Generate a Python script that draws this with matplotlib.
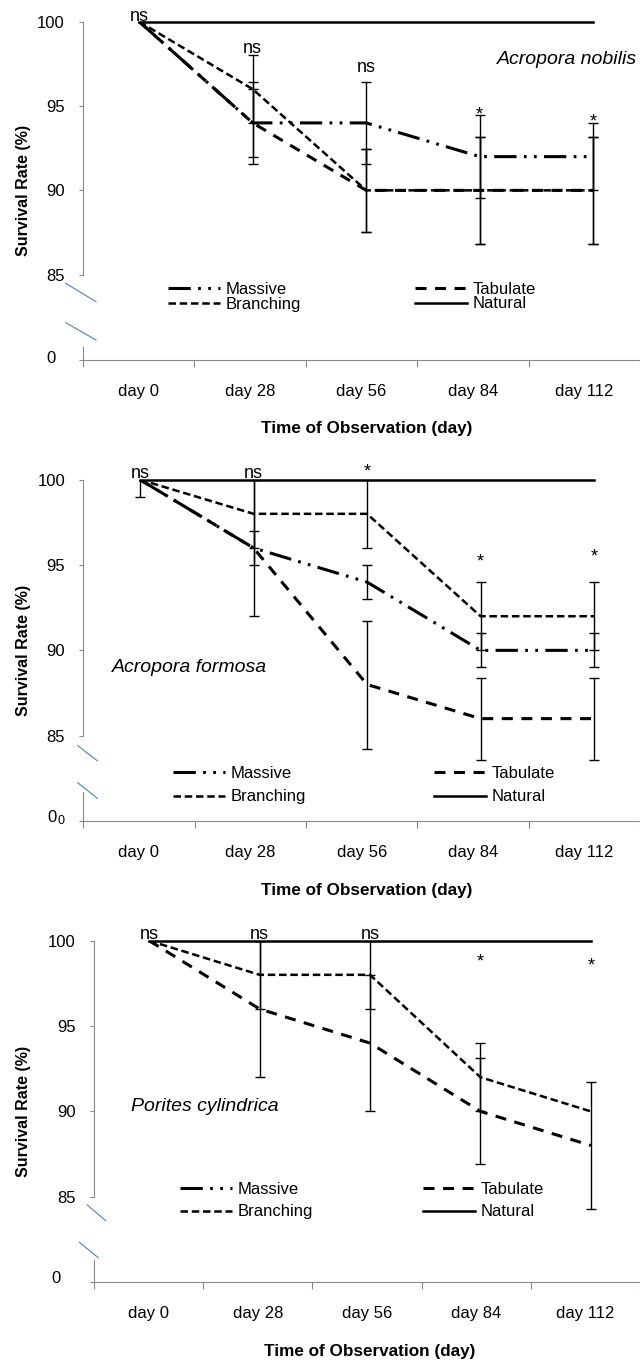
import numpy as np
import matplotlib.pyplot as plt
import matplotlib.transforms as mtransforms
from matplotlib.lines import Line2D

plt.rcParams['font.family'] = ['Liberation Sans', 'DejaVu Sans']

# ---------------------------------------------------------------------------
# Data (survival rate, %)
# ---------------------------------------------------------------------------
days = ["day 0", "day 28", "day 56", "day 84", "day 112"]

# Acropora nobilis
nobilis_massive = [100, 94, 94, 92, 92]
nobilis_tabulate = [100, 94, 90, 90, 90]
nobilis_branching = [100, 96, 90, 90, 90]
nobilis_natural = [100, 100, 100, 100, 100]
nobilis_massive_err = [0, 2.45, 2.45, 2.45, 2.0]
nobilis_tabulate_err = [0, 2.0, 2.45, 3.16, 3.16]
nobilis_branching_err = [0, 2.0, 2.45, 3.16, 3.16]
nobilis_sig = ["ns", "ns", "ns", "*", "*"]
nobilis_sig_y = [100.05, 98.13, 97.0, 94.2, 93.8]

# Acropora formosa
formosa_massive = [100, 96, 94, 90, 90]
formosa_tabulate = [100, 96, 88, 86, 86]
formosa_branching = [100, 98, 98, 92, 92]
formosa_natural = [100, 100, 100, 100, 100]
formosa_massive_err = [1.0, 4.0, 1.0, 1.0, 1.0]
formosa_tabulate_err = [0, 1.0, 3.75, 2.4, 2.4]
formosa_branching_err = [0, 2.0, 2.0, 2.0, 2.0]
formosa_sig = ["ns", "ns", "*", "*", "*"]
formosa_sig_y = [100.08, 100.08, 100.2, 94.94, 95.2]

# Porites cylindrica (no Massive line drawn in the original)
cylindrica_massive = [np.nan, np.nan, np.nan, np.nan, np.nan]
cylindrica_tabulate = [100, 96, 94, 90, 88]
cylindrica_branching = [100, 98, 98, 92, 90]
cylindrica_natural = [100, 100, 100, 100, 100]
cylindrica_massive_err = [0, 0, 0, 0, 0]
cylindrica_tabulate_err = [0, 4.0, 4.0, 3.1, 3.7]
cylindrica_branching_err = [0, 2.0, 2.0, 2.0, 0]
cylindrica_sig = ["ns", "ns", "ns", "*", "*"]
cylindrica_sig_y = [100.08, 100.08, 100.08, 98.46, 98.23]

# ---------------------------------------------------------------------------
# Styles / layout (pixels of a 640x1360 canvas)
# ---------------------------------------------------------------------------
W, H = 640, 1360
GRAY = '#898989'
BLUE = '#4F81BD'

STYLES = {
    "Massive":   dict(lw=2.2, ls=(0, (7.3, 2.4, 0.9, 2.4, 0.9, 2.4))),
    "Tabulate":  dict(lw=2.2, ls=(0, (3.6, 2.8))),
    "Branching": dict(lw=1.8, ls=(0, (3.0, 1.5))),
    "Natural":   dict(lw=1.8, ls='-'),
}

LAYOUTS = [
    dict(x0=82.5, step=113.5, y100=21.7, y85=274.7, low_top=347.3, low_bot=360.0,
         zero_pad=16, zero_up=3, leg_x1=168, leg_x2=415, leg_y=281.5, leg_sp=0.0,
         species="Acropora nobilis", sp_xy=(4.385, 97.73), sp_ha='right',
         breaks=[(65.7, 283.3, 96, 301.7), (65.7, 322.7, 96, 340)], ghost=False),
    dict(x0=83.3, step=113.5, y100=479.7, y85=735.7, low_top=791.7, low_bot=821.0,
         zero_pad=16, zero_up=5, leg_x1=173, leg_x2=434, leg_y=765.5, leg_sp=0.53,
         species="Acropora formosa", sp_xy=(-0.247, 88.97), sp_ha='left',
         breaks=[(77.7, 745.7, 97.3, 760.7), (77.7, 782.7, 97.3, 798.3)], ghost=True),
    dict(x0=94.0, step=110.4, y100=940.7, y85=1196.7, low_top=1260.0, low_bot=1282.3,
         zero_pad=21, zero_up=5, leg_x1=180, leg_x2=423, leg_y=1182.3, leg_sp=0.43,
         species="Porites cylindrica", sp_xy=(-0.168, 90.29), sp_ha='left',
         breaks=[(87.3, 1205, 105.7, 1220.7), (79.3, 1242.3, 98.3, 1257.7)], ghost=False),
]

fig = plt.figure(figsize=(W / 100, H / 100), dpi=100)


def fx(px):
    return px / W


def fy(py):
    return 1 - py / H


def draw_panel(series, errors, sig, sig_y, lay):
    x = np.arange(len(days))
    scale = (lay['y85'] - lay['y100']) / 15.0
    y_lo = 82.0
    top_bottom = lay['y100'] + (100 - y_lo) * scale
    width_px = W - lay['x0']
    x_hi = -0.5 + width_px / lay['step']

    # upper (85-100) part
    ax = fig.add_axes([fx(lay['x0']), fy(top_bottom), width_px / W,
                       (top_bottom - lay['y100']) / H])
    ax.set_xlim(-0.5, x_hi)
    ax.set_ylim(y_lo, 100)
    ax.patch.set_visible(False)
    for s in ['top', 'right', 'bottom']:
        ax.spines[s].set_visible(False)
    ax.spines['left'].set_bounds(85, 100)
    ax.spines['left'].set_color(GRAY)
    ax.set_yticks([85, 90, 95, 100])
    ax.tick_params(axis='y', direction='out', length=3, color=GRAY,
                   labelsize=12, pad=10)
    ax.set_xticks([])

    # error bars (only where there is one)
    for name, err_vals in errors.items():
        err = np.array(err_vals, dtype=float)
        idx = np.where(err > 0)[0]
        if len(idx) == 0:
            continue
        ax.errorbar(x[idx], np.array(series[name], dtype=float)[idx], yerr=err[idx],
                    fmt='none', ecolor='black', elinewidth=1.0,
                    capsize=3.5, capthick=1.0, zorder=2)

    handles = {}
    for name in ["Massive", "Tabulate", "Branching", "Natural"]:
        st = STYLES[name]
        line, = ax.plot(x, series[name], color='black', lw=st['lw'],
                        linestyle=st['ls'], label=name, zorder=3,
                        clip_on=(name != "Natural"))
        handles[name] = line

    for xi, lab, yv in zip(x, sig, sig_y):
        ax.text(xi, yv, lab, ha='center', va='baseline', fontsize=13)

    ax.text(lay['sp_xy'][0], lay['sp_xy'][1], lay['species'], ha=lay['sp_ha'],
            va='center', fontsize=14, style='italic')

    leg_kw = dict(loc='upper left', bbox_transform=fig.transFigure, frameon=False,
                  borderpad=0, borderaxespad=0, handlelength=3.1,
                  handletextpad=0.35, labelspacing=lay['leg_sp'], fontsize=12)
    leg1 = ax.legend([handles['Massive'], handles['Branching']],
                     ['Massive', 'Branching'],
                     bbox_to_anchor=(fx(lay['leg_x1']), fy(lay['leg_y'])), **leg_kw)
    ax.add_artist(leg1)
    ax.legend([handles['Tabulate'], handles['Natural']], ['Tabulate', 'Natural'],
              bbox_to_anchor=(fx(lay['leg_x2']), fy(lay['leg_y'])), **leg_kw)

    # lower (0) part with the category axis
    axl = fig.add_axes([fx(lay['x0']), fy(lay['low_bot']), width_px / W,
                        (lay['low_bot'] - lay['low_top']) / H])
    axl.set_xlim(-0.5, x_hi)
    axl.set_ylim(0, 1)
    axl.patch.set_visible(False)
    axl.spines['top'].set_visible(False)
    axl.spines['right'].set_visible(False)
    axl.spines['left'].set_color(GRAY)
    axl.spines['bottom'].set_color(GRAY)
    axl.set_yticks([0])
    axl.set_yticklabels(['0'])
    axl.tick_params(axis='y', direction='out', length=3, color=GRAY,
                    labelsize=12, pad=lay['zero_pad'])
    shift = mtransforms.ScaledTranslation(0, lay['zero_up'] / 100, fig.dpi_scale_trans)
    for lab in axl.get_yticklabels():
        lab.set_transform(lab.get_transform() + shift)
    axl.set_xticks(np.arange(len(days) + 1) - 0.5)
    axl.set_xticks(x, labels=days, minor=True)
    axl.tick_params(axis='x', which='major', direction='out', length=5,
                    color=GRAY, labelbottom=False)
    axl.tick_params(axis='x', which='minor', length=0, pad=17, labelsize=12)

    if lay['ghost']:
        fig.text(fx(61.5), fy(821.5), '0', fontsize=9, ha='center', va='center')

    # axis break marks
    for xa, ya, xb, yb in lay['breaks']:
        fig.add_artist(Line2D([fx(xa), fx(xb)], [fy(ya), fy(yb)], color=BLUE, lw=0.8))

    fig.text(fx(24), fy((lay['y100'] + lay['low_bot']) / 2), 'Survival Rate (%)',
             rotation=90, fontsize=11.5, fontweight='bold', ha='center', va='center')
    fig.text(fx(lay['x0'] + 2.5 * lay['step']), fy(lay['low_bot'] + 69),
             'Time of Observation (day)', fontsize=12.3, fontweight='bold',
             ha='center', va='center')


panel_data = [
    ({"Massive": nobilis_massive, "Tabulate": nobilis_tabulate,
      "Branching": nobilis_branching, "Natural": nobilis_natural},
     {"Massive": nobilis_massive_err, "Tabulate": nobilis_tabulate_err,
      "Branching": nobilis_branching_err},
     nobilis_sig, nobilis_sig_y),
    ({"Massive": formosa_massive, "Tabulate": formosa_tabulate,
      "Branching": formosa_branching, "Natural": formosa_natural},
     {"Massive": formosa_massive_err, "Tabulate": formosa_tabulate_err,
      "Branching": formosa_branching_err},
     formosa_sig, formosa_sig_y),
    ({"Massive": cylindrica_massive, "Tabulate": cylindrica_tabulate,
      "Branching": cylindrica_branching, "Natural": cylindrica_natural},
     {"Massive": cylindrica_massive_err, "Tabulate": cylindrica_tabulate_err,
      "Branching": cylindrica_branching_err},
     cylindrica_sig, cylindrica_sig_y),
]

for (series, errors, sig, sig_y), lay in zip(panel_data, LAYOUTS):
    draw_panel(series, errors, sig, sig_y, lay)

fig.savefig("out.png", dpi=100)
